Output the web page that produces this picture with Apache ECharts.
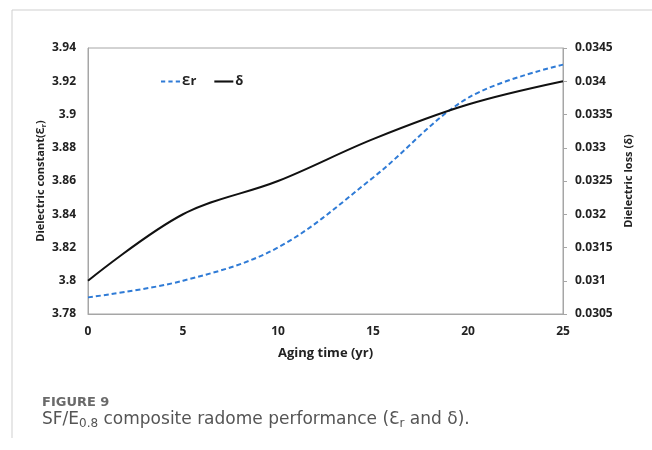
<!DOCTYPE html>
<html>
<head>
<meta charset="utf-8">
<script src="https://cdn.jsdelivr.net/npm/echarts@6/dist/echarts.min.js"></script>
<style>
  html, body { margin: 0; padding: 0; background: #fff; }
  #chart { width: 652px; height: 450px; }
</style>
</head>
<body>
<div id="chart"></div>
<script>
// aging time (yr)
const years = [0, 5, 10, 15, 20, 25];
// dielectric constant, left axis
const epsR = [3.79, 3.80, 3.82, 3.862, 3.91, 3.93];
// dielectric loss, right axis
const delta = [0.031, 0.032, 0.0325, 0.03313, 0.03365, 0.034];

const xTicks = [0, 5, 10, 15, 20, 25];

(function () {
  const myChart = echarts.init(document.getElementById("chart"));
  const font = "'Open Sans', 'Noto Sans', sans-serif";
  const capFont = "'DejaVu Sans', sans-serif";

  const option = {
    animation: false,
    textStyle: { fontFamily: font },
    grid: {
      left: 88,
      right: 89,
      top: 48,
      bottom: 136,
      show: true,
      borderColor: "#a6a6a6",
      borderWidth: 1
    },
    legend: {
      left: 156,
      top: 70,
      itemWidth: 19,
      itemHeight: 10,
      itemGap: 18,
      textStyle: { fontSize: 13, fontWeight: "bold", color: "#222", fontFamily: font, padding: [0, 0, 0, -3] },
      data: [
        { name: "Ɛr", icon: "path://M0,4H4V6H0Z M7,4H11V6H7Z M14,4H18V6H14Z" },
        { name: "δ", icon: "path://M0,4H18V6H0Z", itemStyle: { color: "#111" } }
      ]
    },
    xAxis: {
      type: "value",
      min: xTicks[0],
      max: xTicks[xTicks.length - 1],
      interval: 5,
      name: "Aging time (yr)",
      nameLocation: "middle",
      nameGap: 33,
      nameTextStyle: { fontSize: 13, fontWeight: "bold", color: "#222" },
      axisLine: { show: true, lineStyle: { color: "#a6a6a6" } },
      axisTick: { show: false },
      splitLine: { show: false },
      axisLabel: { fontSize: 12, fontWeight: "bold", color: "#222", margin: 12 }
    },
    yAxis: [
      {
        type: "value",
        min: 3.78,
        max: 3.94,
        interval: 0.02,
        name: "{a|Dielectric constant(Ɛ}{s|r}{a|)}",
        nameLocation: "middle",
        nameGap: 41,
        nameMoveOverlap: false,
        nameTextStyle: {
          rich: {
            a: { fontSize: 11, fontWeight: "bold", color: "#222", fontFamily: font },
            s: { fontSize: 7, fontWeight: "bold", color: "#222", fontFamily: font, verticalAlign: "bottom", padding: [5, 0, 0, 0] }
          }
        },
        axisLine: { show: true, lineStyle: { color: "#a6a6a6" } },
        axisTick: { show: false },
        splitLine: { show: false },
        axisLabel: { fontSize: 12, fontWeight: "bold", color: "#222", margin: 12, align: "right" }
      },
      {
        type: "value",
        position: "right",
        min: 0.0305,
        max: 0.0345,
        interval: 0.0005,
        name: "Dielectric loss (δ)",
        nameLocation: "middle",
        nameGap: 58,
        nameRotate: 90,
        nameTextStyle: { fontSize: 11, fontWeight: "bold", color: "#222" },
        axisLine: { show: true, lineStyle: { color: "#a6a6a6" } },
        axisTick: { show: true, length: 4, inside: false, lineStyle: { color: "#a6a6a6" } },
        splitLine: { show: false },
        axisLabel: { fontSize: 12, fontWeight: "bold", color: "#222", margin: 12, align: "left" }
      }
    ],
    series: [
      {
        name: "Ɛr",
        type: "line",
        yAxisIndex: 0,
        smooth: 0.35,
        showSymbol: false,
        symbol: "none",
        color: "#2f7bd6",
        lineStyle: { color: "#2f7bd6", width: 2, type: [5, 3] },
        data: years.map((t, i) => [t, epsR[i]])
      },
      {
        name: "δ",
        type: "line",
        yAxisIndex: 1,
        smooth: 0.35,
        showSymbol: false,
        symbol: "none",
        color: "#111",
        lineStyle: { color: "#111", width: 2 },
        data: years.map((t, i) => [t, delta[i]])
      }
    ],
    graphic: [
      { type: "line", shape: { x1: 12, y1: 10, x2: 652, y2: 10 }, style: { stroke: "#cfcfcf", lineWidth: 1 } },
      { type: "line", shape: { x1: 12, y1: 10, x2: 12, y2: 438 }, style: { stroke: "#cfcfcf", lineWidth: 1 } },
      {
        type: "text",
        left: 42,
        top: 396,
        style: { text: "FIGURE 9", fontSize: 13, fontWeight: "bold", fill: "#6a6a6a", fontFamily: capFont }
      },
      {
        type: "text",
        left: 42,
        top: 411,
        style: {
          text: "{a|SF/E}{s|0.8}{a| composite radome performance (Ɛ}{s|r}{a| and δ).}",
          rich: {
            a: { fontSize: 17, fill: "#555", fontFamily: capFont },
            s: { fontSize: 12, fill: "#555", fontFamily: capFont, padding: [8, 0, 0, 0] }
          }
        }
      }
    ]
  };

  myChart.setOption(option);
  window.addEventListener("resize", function () {
    myChart.resize();
  });
})();
</script>
</body>
</html>
